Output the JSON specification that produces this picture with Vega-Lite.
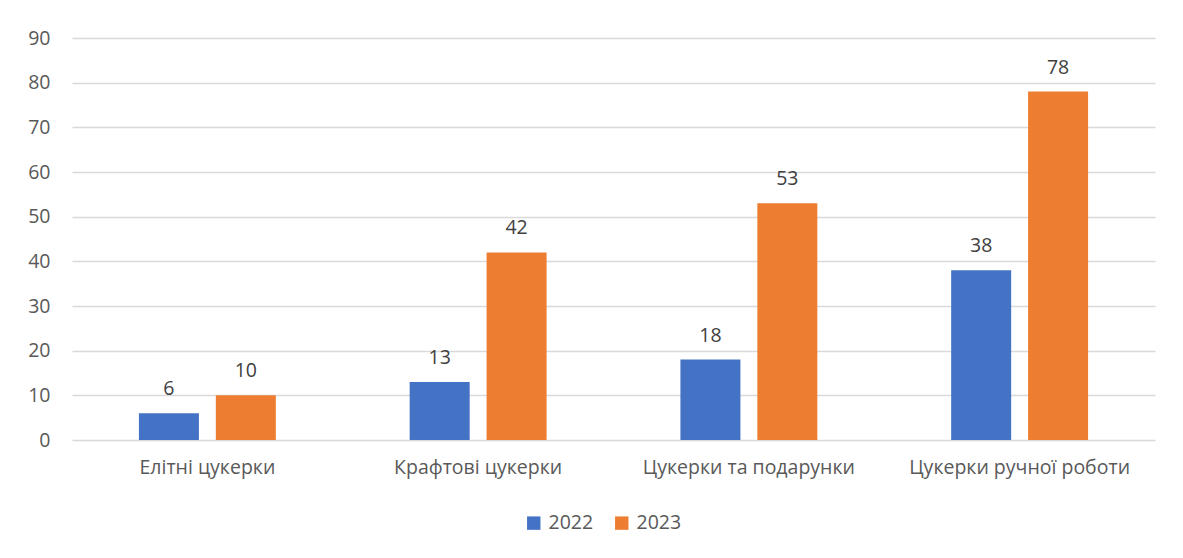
{
  "$schema": "https://vega.github.io/schema/vega-lite/v6.json",
  "autosize": "none",
  "width": 1083,
  "height": 402,
  "padding": {"left": 72, "top": 38, "right": 28, "bottom": 118},
  "background": "white",
  "config": {
    "view": {"stroke": null},
    "font": "Open Sans"
  },
  "data": {
    "values": [
      {"category": "Елітні цукерки", "year": "2022", "value": 6},
      {"category": "Елітні цукерки", "year": "2023", "value": 10},
      {"category": "Крафтові цукерки", "year": "2022", "value": 13},
      {"category": "Крафтові цукерки", "year": "2023", "value": 42},
      {"category": "Цукерки та подарунки", "year": "2022", "value": 18},
      {"category": "Цукерки та подарунки", "year": "2023", "value": 53},
      {"category": "Цукерки ручної роботи", "year": "2022", "value": 38},
      {"category": "Цукерки ручної роботи", "year": "2023", "value": 78}
    ]
  },
  "encoding": {
    "x": {
      "field": "category", "type": "nominal", "sort": null,
      "scale": {"paddingInner": 0, "paddingOuter": 0},
      "axis": {"title": null, "labelAngle": 0, "domain": false, "ticks": false, "labelLimit": 400,
               "labelFontSize": 19.5, "labelColor": "#595959", "labelPadding": 18, "labelFont": "Open Sans"}
    },
    "xOffset": {"field": "year", "type": "nominal", "scale": {"paddingInner": 0.22, "paddingOuter": 0.87}},
    "y": {
      "field": "value", "type": "quantitative",
      "scale": {"domain": [0, 90]},
      "axis": {"title": null, "values": [0,10,20,30,40,50,60,70,80,90], "labelOverlap": false, "domain": false, "ticks": false,
               "gridColor": "#d9d9d9", "gridWidth": 1.3, "labelFontSize": 19.5, "labelColor": "#595959", "labelPadding": 22}
    }
  },
  "layer": [
    {
      "mark": {"type": "bar"},
      "encoding": {
        "color": {
          "field": "year", "type": "nominal",
          "scale": {"domain": ["2022", "2023"], "range": ["#4472c4", "#ed7d31"]},
          "legend": {"title": null, "orient": "none", "direction": "horizontal", "legendX": 452, "legendY": 475,
                     "symbolType": "square", "symbolSize": 180, "symbolStrokeWidth": 0, "labelFontSize": 19.5,
                     "labelColor": "#595959", "columnPadding": 18, "labelOffset": 5}
        }
      }
    },
    {
      "mark": {"type": "text", "dy": -24, "fontSize": 19.5, "color": "#404040"},
      "encoding": {"text": {"field": "value", "type": "quantitative"}}
    }
  ]
}
